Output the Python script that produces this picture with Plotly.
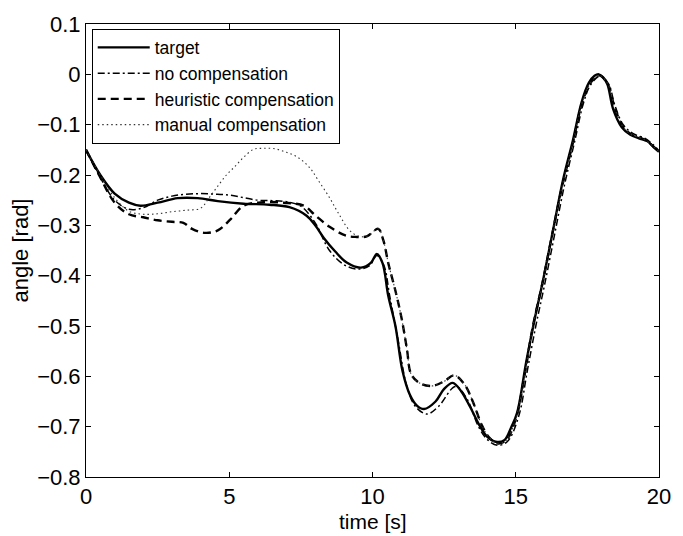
import plotly.graph_objects as go

# ---- data ----
t_target = [0, 0.5, 1.0, 1.5, 1.9, 2.5, 3.2, 3.9, 4.6, 5.5, 6.4, 7.1, 7.7, 8.0, 8.3, 8.7, 9.1, 9.6,
            9.95, 10.15, 10.35, 10.55, 10.8, 11.05, 11.3, 11.55, 11.8, 12.2, 12.5, 12.8, 13.1, 13.4,
            13.77, 14.0, 14.3, 14.6, 14.85, 15.05, 15.37, 15.66, 15.95, 16.3, 16.65, 17.0, 17.3,
            17.55, 17.75, 17.9, 18.05, 18.2, 18.4, 18.7, 19.0, 19.3, 19.6, 19.8, 20.0]
v_target = [-0.15, -0.2, -0.237, -0.255, -0.261, -0.255, -0.246, -0.246, -0.252, -0.257, -0.259,
            -0.264, -0.281, -0.3, -0.325, -0.352, -0.374, -0.384, -0.374, -0.357, -0.375, -0.44,
            -0.5, -0.59, -0.636, -0.658, -0.665, -0.65, -0.625, -0.613, -0.63, -0.66, -0.701,
            -0.72, -0.73, -0.727, -0.70, -0.672, -0.57, -0.486, -0.41, -0.31, -0.21, -0.13,
            -0.055, -0.017, -0.003, 0.0, -0.006, -0.02, -0.069, -0.105, -0.12, -0.127, -0.133,
            -0.144, -0.154]

t_nocomp = [0, 0.5, 1.0, 1.5, 2.0, 2.5, 3.0, 3.5, 4.0, 4.5, 5.0, 5.5, 6.0, 6.5, 7.0, 7.5, 8.0,
            8.5, 9.0, 9.5, 9.9, 10.15, 10.4, 10.6, 10.9, 11.2, 11.5, 11.9, 12.3, 12.9, 13.3, 13.7,
            14.0, 14.35, 14.7, 15.1, 15.4, 15.7, 16.0, 16.35, 16.7, 17.05, 17.35, 17.6, 17.95,
            18.25, 18.45, 18.75, 19.1, 19.5, 19.8, 20.0]
v_nocomp = [-0.15, -0.205, -0.25, -0.268, -0.265, -0.25, -0.242, -0.238, -0.237, -0.238, -0.24,
            -0.245, -0.25, -0.251, -0.253, -0.262, -0.295, -0.35, -0.378, -0.387, -0.38, -0.36,
            -0.38, -0.44, -0.53, -0.62, -0.66, -0.675, -0.66, -0.62, -0.645, -0.7, -0.725, -0.737,
            -0.73, -0.68, -0.59, -0.5, -0.42, -0.32, -0.22, -0.135, -0.06, -0.022, -0.003, -0.02,
            -0.06, -0.1, -0.118, -0.127, -0.14, -0.152]

t_heur = [0, 0.5, 1.0, 1.5, 2.0, 2.5, 3.0, 3.4, 3.7, 4.15, 4.6, 5.06, 5.5, 6.2, 6.9, 7.6, 8.0,
          8.5, 9.05, 9.4, 9.8, 10.2, 10.38, 10.55, 10.8, 11.02, 11.2, 11.36, 11.7, 12.1, 12.5,
          12.85, 13.2, 13.5, 13.8, 14.05, 14.35, 14.65, 15.0, 15.3, 15.6, 15.95, 16.3, 16.65,
          17.0, 17.3, 17.6, 17.9, 18.2, 18.45, 18.75, 19.05, 19.5, 19.8, 20.0]
v_heur = [-0.15, -0.205, -0.255, -0.278, -0.284, -0.29, -0.293, -0.295, -0.307, -0.315, -0.31,
          -0.287, -0.261, -0.254, -0.255, -0.261, -0.28, -0.303, -0.32, -0.323, -0.322, -0.307,
          -0.33, -0.375, -0.43, -0.486, -0.545, -0.597, -0.615, -0.619, -0.61, -0.598, -0.615,
          -0.65, -0.695, -0.72, -0.733, -0.728, -0.685, -0.6, -0.5, -0.41, -0.31, -0.215, -0.135,
          -0.06, -0.018, -0.002, -0.018, -0.065, -0.105, -0.12, -0.13, -0.143, -0.154]

t_manual = [0, 0.5, 1.0, 1.5, 2.0, 2.5, 3.0, 3.5, 4.0, 4.3, 4.6, 4.9, 5.2, 5.5, 5.85, 6.2, 6.6,
            7.0, 7.4, 7.8, 8.1, 8.5, 8.8, 9.2, 9.5, 9.8, 10.2, 10.38, 10.55, 10.8, 11.02, 11.2,
            11.36, 11.7, 12.1, 12.5, 12.85, 13.2, 13.5, 13.8, 14.05, 14.35, 14.65, 15.0, 15.3,
            15.6, 15.95, 16.3, 16.65, 17.0, 17.3, 17.6, 17.9, 18.2, 18.45, 18.75, 19.05, 19.5,
            19.8, 20.0]
v_manual = [-0.15, -0.2, -0.245, -0.272, -0.278, -0.277, -0.273, -0.27, -0.266, -0.245, -0.222,
            -0.2, -0.183, -0.165, -0.149, -0.147, -0.148, -0.155, -0.165, -0.185, -0.21, -0.245,
            -0.275, -0.31, -0.321, -0.322, -0.307, -0.33, -0.375, -0.43, -0.486, -0.545, -0.597,
            -0.615, -0.619, -0.61, -0.598, -0.615, -0.65, -0.695, -0.72, -0.733, -0.728, -0.685,
            -0.6, -0.5, -0.41, -0.31, -0.215, -0.135, -0.06, -0.018, -0.002, -0.018, -0.065,
            -0.105, -0.12, -0.13, -0.143, -0.154]

x_ticks = [0, 5, 10, 15, 20]
x_ticktext = ["0", "5", "10", "15", "20"]
y_ticks = [-0.8, -0.7, -0.6, -0.5, -0.4, -0.3, -0.2, -0.1, 0.0, 0.1]
y_ticktext = ["\u22120.8", "\u22120.7", "\u22120.6", "\u22120.5", "\u22120.4",
              "\u22120.3", "\u22120.2", "\u22120.1", "0", "0.1"]
x_title = "time [s]"
y_title = "angle [rad]"

FONT = "Liberation Sans, Arial, Helvetica, sans-serif"

fig = go.Figure()
fig.add_trace(go.Scatter(x=t_target, y=v_target, mode="lines", name="target",
                         line=dict(color="black", width=2.4, shape="spline")))
fig.add_trace(go.Scatter(x=t_nocomp, y=v_nocomp, mode="lines", name="no compensation",
                         line=dict(color="black", width=1.5, shape="spline",
                                   dash="7px,3px,2px,3px")))
fig.add_trace(go.Scatter(x=t_heur, y=v_heur, mode="lines", name="heuristic compensation",
                         line=dict(color="black", width=2.4, shape="spline", dash="8px,5px")))
fig.add_trace(go.Scatter(x=t_manual, y=v_manual, mode="lines", name="manual compensation",
                         line=dict(color="#333333", width=1.1, shape="spline", dash="1.5px,3px")))

axis_common = dict(showline=True, linecolor="black", linewidth=1, mirror="ticks",
                   ticks="inside", ticklen=5, tickcolor="black", showgrid=False,
                   zeroline=False, tickfont=dict(family=FONT, size=22, color="black"))

fig.update_layout(
    width=683, height=536,
    margin=dict(l=86, r=15, t=17, b=59),
    paper_bgcolor="white", plot_bgcolor="white",
    font=dict(family=FONT, size=22, color="black"),
    xaxis=dict(range=[0, 20], tickvals=x_ticks, ticktext=x_ticktext, **axis_common),
    yaxis=dict(range=[-0.8, 0.1], tickvals=y_ticks, ticktext=y_ticktext,
               title=dict(text=y_title, font=dict(size=22), standoff=2), **axis_common),
    legend=dict(x=0.01, y=0.99, xanchor="left", yanchor="top",
                bgcolor="white", bordercolor="black", borderwidth=1,
                font=dict(family=FONT, size=17.5, color="black"),
                tracegroupgap=0, itemwidth=52),
    showlegend=True,
    annotations=[dict(text=x_title, xref="paper", yref="paper", x=0.5, y=-0.099,
                      xanchor="center", yanchor="middle", showarrow=False,
                      font=dict(family=FONT, size=21, color="black"))],
)

fig.write_html("out.html")
